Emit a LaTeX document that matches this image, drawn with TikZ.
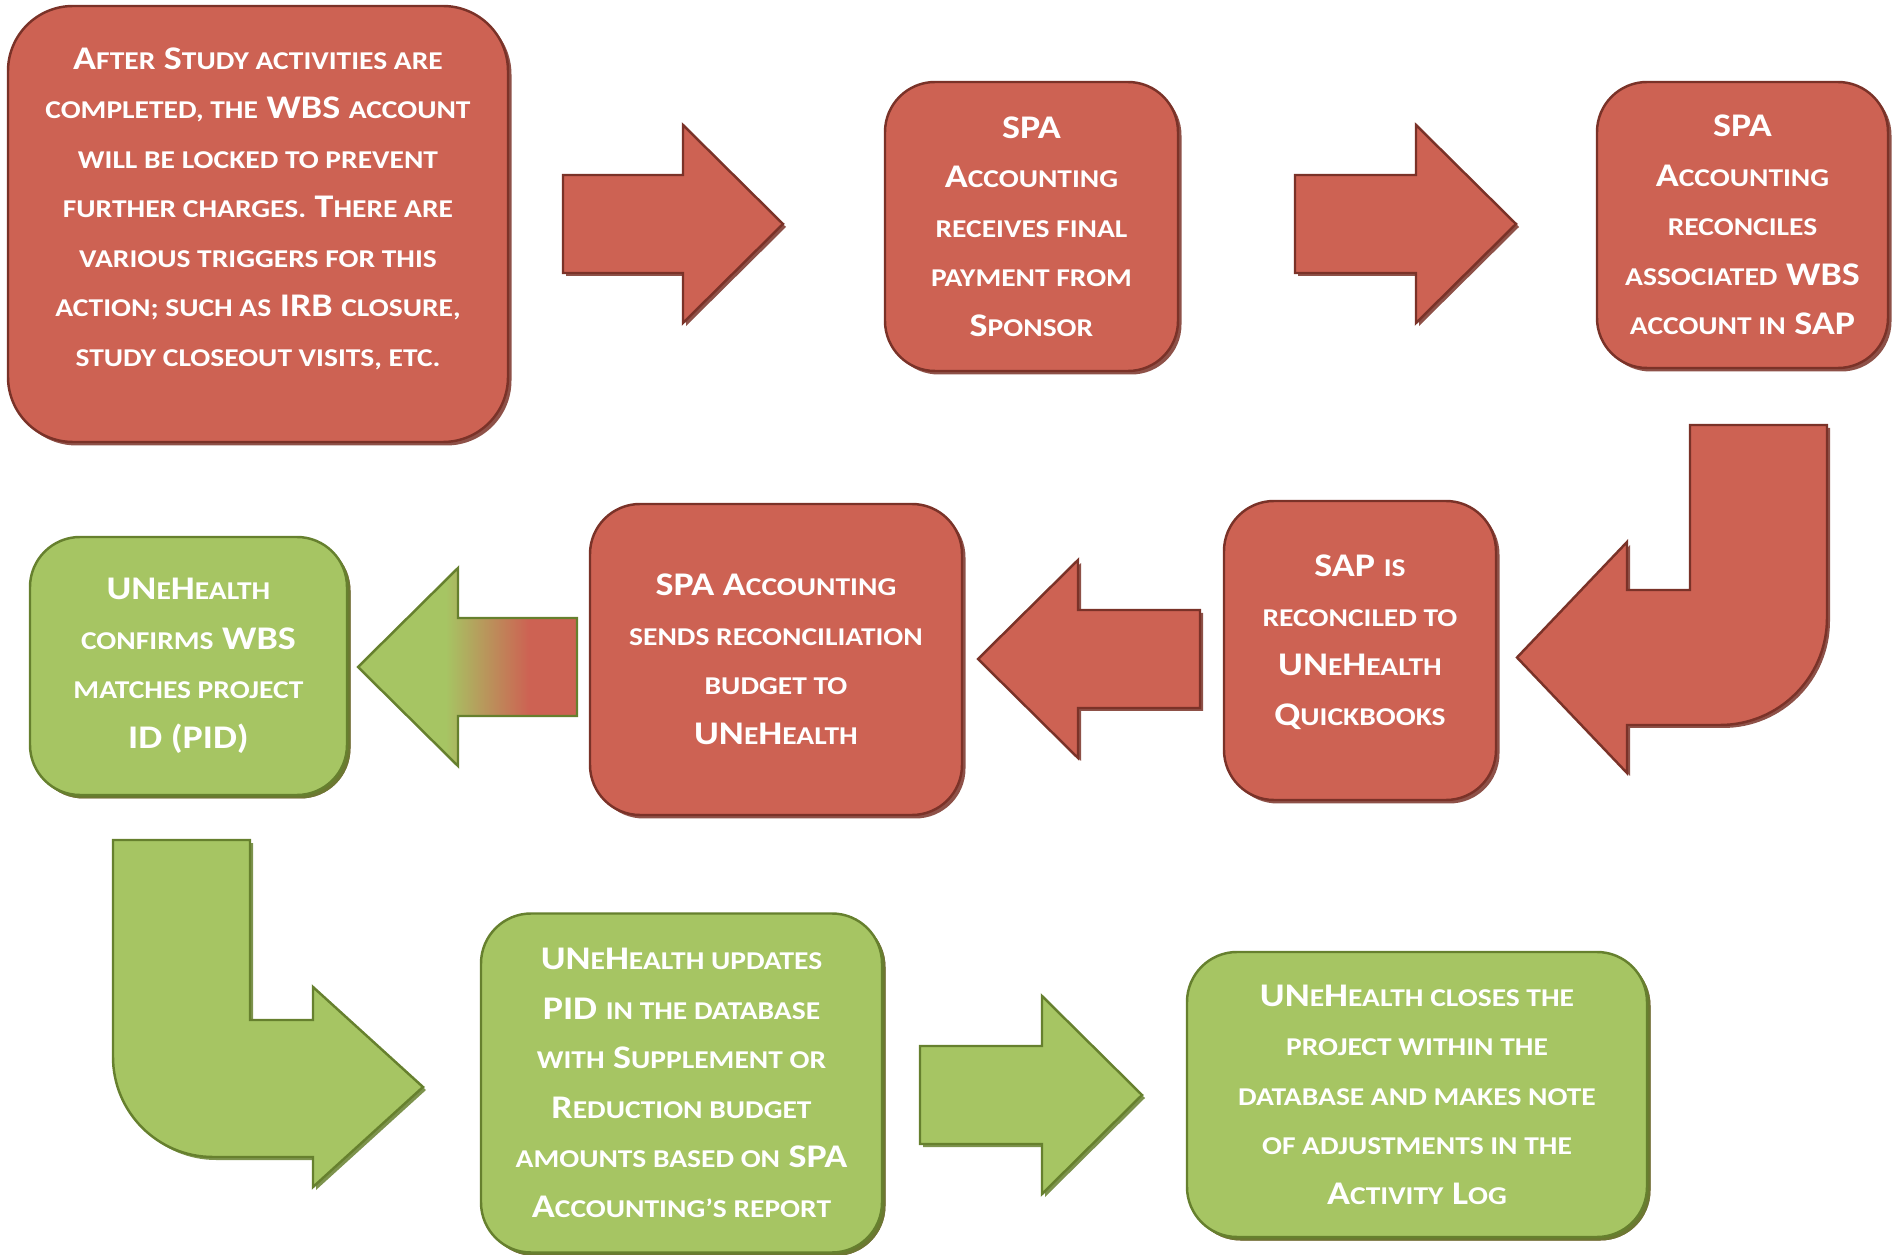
\documentclass[tikz,border=0pt]{standalone}
\usepackage{fontspec}
\setmainfont{Carlito}[FakeStretch=1.15]
\usetikzlibrary{calc,shadows}
\definecolor{unered}{RGB}{205,98,83}
\definecolor{uneredd}{RGB}{122,50,40}
\definecolor{unegreen}{RGB}{166,197,99}
\definecolor{unegreend}{RGB}{102,128,46}
\pgfdeclarehorizontalshading{greentored}{100bp}{color(0bp)=(unegreen); color(45bp)=(unegreen); color(64bp)=(unered); color(100bp)=(unered)}
\newcommand{\lc}[1]{{\fontsize{7.3}{14.1}\selectfont\MakeUppercase{#1}}}
\tikzset{
  stepred/.style={rectangle,rounded corners=5mm,fill=unered,draw=uneredd,line width=0.7pt,
    drop shadow={shadow xshift=0.35mm,shadow yshift=-0.35mm,fill=uneredd,opacity=0.85},
    text=white,align=center,inner sep=0pt,font=\bfseries\fontsize{9.4}{14.1}\selectfont},
  stepgreen/.style={stepred,fill=unegreen,draw=unegreend,
    drop shadow={shadow xshift=0.35mm,shadow yshift=-0.35mm,fill=unegreend,opacity=0.85}},
  blockarrow/.style={to path={let \p1=(\tikztostart),\p2=(\tikztotarget),
    \n1={\x2-sign(\x2-\x1)*10mm} in
    (\x1,{\y1+4.9mm}) -- ({\n1*1pt},{\y1+4.9mm}) -- ({\n1*1pt},{\y1+9.9mm}) -- (\x2,\y2)
    -- ({\n1*1pt},{\y1-9.9mm}) -- ({\n1*1pt},{\y1-4.9mm}) -- (\x1,{\y1-4.9mm}) -- cycle}},
  redarrow/.style={fill=unered,draw=uneredd,line width=0.7pt,
    drop shadow={shadow xshift=0.3mm,shadow yshift=-0.3mm,fill=uneredd,opacity=0.85}},
  greenarrow/.style={fill=unegreen,draw=unegreend,line width=0.7pt,
    drop shadow={shadow xshift=0.3mm,shadow yshift=-0.3mm,fill=unegreend,opacity=0.85}}
}

\begin{document}
\begin{tikzpicture}[x=0.1mm,y=-0.1mm]
  \useasboundingbox (0,0) rectangle (1894,1255);
  \node[stepred,minimum width=50mm,minimum height=43.6mm,rounded corners=6.5mm,text depth=9.7pt]
    (lock) at (258,224) {A\lc{fter} S\lc{tudy activities are}\\
    \lc{completed, the} WBS \lc{account}\\
    \lc{will be locked to prevent}\\
    \lc{further charges.} T\lc{here are}\\
    \lc{various triggers for this}\\
    \lc{action; such as} IRB \lc{closure,}\\
    \lc{study closeout visits, etc.}};
  \node[stepred,minimum width=29.3mm,minimum height=28.9mm] (payment) at (1031.5,226.5)
    {SPA\\ A\lc{ccounting}\\ \lc{receives final}\\ \lc{payment from}\\ S\lc{ponsor}};
  \node[stepred,minimum width=29.1mm,minimum height=28.6mm] (reconcile) at (1742.5,225)
    {SPA\\ A\lc{ccounting}\\ \lc{reconciles}\\ \lc{associated} WBS\\ \lc{account in} SAP};
  \node[stepred,minimum width=27.2mm,minimum height=29.9mm,text depth=6pt] (sapqb) at (1360,650.5)
    {SAP \lc{is}\\ \lc{reconciled to}\\ UN\lc{e}H\lc{ealth}\\ Q\lc{uickbooks}};
  \node[stepred,minimum width=37.2mm,minimum height=31.1mm] (sendbudget) at (776,659.5)
    {SPA A\lc{ccounting}\\ \lc{sends reconciliation}\\ \lc{budget to}\\ UN\lc{e}H\lc{ealth}};
  \node[stepgreen,minimum width=31.7mm,minimum height=25.8mm] (confirm) at (188.5,666)
    {UN\lc{e}H\lc{ealth}\\ \lc{confirms} WBS\\ \lc{matches project}\\ ID (PID)};
  \node[stepgreen,minimum width=40.1mm,minimum height=33.9mm] (updatepid) at (681.5,1083)
    {UN\lc{e}H\lc{ealth updates}\\ PID \lc{in the database}\\ \lc{with} S\lc{upplement or}\\
    R\lc{eduction budget}\\ \lc{amounts based on} SPA\\ A\lc{ccounting’s report}};
  \node[stepgreen,minimum width=46mm,minimum height=28.5mm] (closeproj) at (1417,1094.5)
    {UN\lc{e}H\lc{ealth closes the}\\ \lc{project within the}\\ \lc{database and makes note}\\
    \lc{of adjustments in the}\\ A\lc{ctivity} L\lc{og}};
  \coordinate (a1t) at (563,224);
  \coordinate (a1h) at (783,224);
  \coordinate (a2t) at (1295,224);
  \coordinate (a2h) at (1516,224);
  \coordinate (a3t) at (1200,659);
  \coordinate (a3h) at (978,659);
  \coordinate (a4t) at (577,667);
  \coordinate (a4h) at (358,667);
  \coordinate (a5t) at (920,1095);
  \coordinate (a5h) at (1142,1095);
  \draw[redarrow] (a1t) to[blockarrow] (a1h);
  \draw[redarrow] (a2t) to[blockarrow] (a2h);
  \draw[redarrow] (a3t) to[blockarrow] (a3h);
  \path[shade,shading=greentored,draw=unegreend,line width=0.7pt] (a4t) to[blockarrow] (a4h);
  \draw[greenarrow] (a5t) to[blockarrow] (a5h);
  \draw[redarrow] (1690,425) -- (1827,425) -- (1827,618) arc[start angle=0,end angle=90,radius=107]
    -- (1627,725) -- (1627,773) -- (1517,657.5) -- (1627,542) -- (1627,590) -- (1690,590) -- cycle;
  \draw[greenarrow] (113,840) -- (250,840) -- (250,1020) -- (313,1020) -- (313,987) -- (423,1087)
    -- (313,1187) -- (313,1157) -- (213,1157) arc[start angle=90,end angle=180,radius=100] -- cycle;
\end{tikzpicture}
\end{document}
